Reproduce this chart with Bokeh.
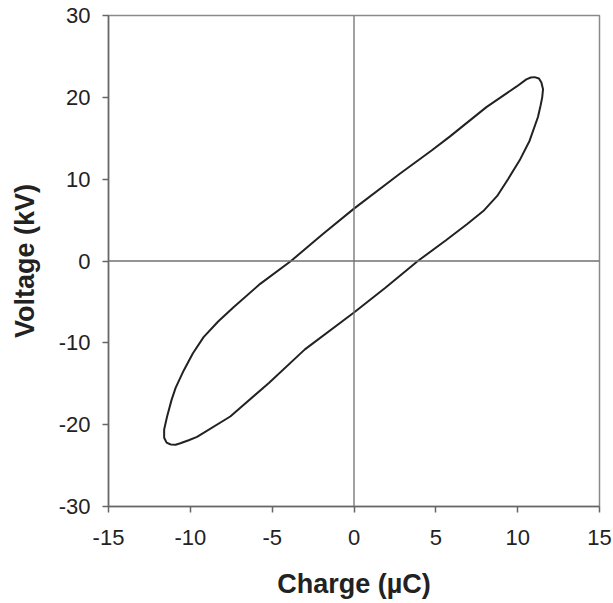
from bokeh.plotting import figure
from bokeh.models import Span, FixedTicker, CustomJSTickFormatter
from bokeh.embed import file_html
from bokeh.resources import INLINE

# Loop (charge in µC, voltage in kV)
charge = [-11.2, -11.45, -11.6, -11.6, -11.42, -11.15, -10.9, -10.41, -9.85, -9.19,
          -8.3, -7.36, -5.73, -3.85, -1.9, 0.0, 2.8, 4.74, 5.85, 8.09,
          9.92, 10.53, 10.8, 11.04, 11.3, 11.45, 11.55, 11.5, 11.4, 11.24,
          10.73, 10.12, 9.41, 8.75, 7.9, 6.9, 5.6, 3.9, 1.9, 0.0,
          -3.0, -5.2, -7.56, -9.59, -10.1, -10.61, -10.9, -11.2]
voltage = [-22.42, -22.2, -21.6, -20.6, -19.0, -17.0, -15.5, -13.4, -11.3, -9.3,
           -7.4, -5.65, -2.79, 0.0, 3.3, 6.4, 10.66, 13.5, 15.2, 18.8,
           21.3, 22.2, 22.42, 22.47, 22.3, 21.8, 21.0, 20.0, 19.0, 17.6,
           14.7, 12.3, 10.0, 7.95, 6.1, 4.5, 2.5, 0.0, -3.3, -6.3,
           -10.8, -14.9, -19.0, -21.5, -21.9, -22.27, -22.45, -22.42]

x_ticks = [-15, -10, -5, 0, 5, 10, 15]
y_ticks = [-30, -20, -10, 0, 10, 20, 30]
x_title = "Charge (µC)"
y_title = "Voltage (kV)"

FONT = "Liberation Sans"

p = figure(width=613, height=603, x_range=(-15, 15), y_range=(-30, 30),
           output_backend="svg", toolbar_location=None,
           min_border_left=108, min_border_right=14, min_border_top=15, min_border_bottom=97)

p.xgrid.visible = False
p.ygrid.visible = False
p.background_fill_color = "white"
p.border_fill_color = "white"
p.outline_line_color = "#8a8a8a"
p.outline_line_width = 1.5

fmt = CustomJSTickFormatter(code="return tick.toString();")
for ax in (p.xaxis[0], p.yaxis[0]):
    ax.axis_line_color = "#666666"
    ax.axis_line_width = 1.5
    ax.major_tick_line_color = "#666666"
    ax.major_tick_line_width = 1.5
    ax.major_tick_out = 6
    ax.major_tick_in = 0
    ax.minor_tick_line_color = None
    ax.major_label_text_font = FONT
    ax.major_label_text_font_size = "22px"
    ax.major_label_text_color = "#222222"
    ax.axis_label_text_font = FONT
    ax.axis_label_text_font_size = "27px"
    ax.axis_label_text_font_style = "bold"
    ax.axis_label_text_color = "#222222"
    ax.formatter = fmt

p.xaxis[0].major_label_standoff = 17
p.xaxis[0].axis_label_standoff = 21
p.yaxis[0].major_label_standoff = 12
p.yaxis[0].axis_label_standoff = 16
p.xaxis[0].ticker = FixedTicker(ticks=x_ticks)
p.yaxis[0].ticker = FixedTicker(ticks=y_ticks)
p.xaxis[0].axis_label = x_title
p.yaxis[0].axis_label = y_title

p.add_layout(Span(location=0, dimension="width", line_color="#707070", line_width=1.3))
p.add_layout(Span(location=0, dimension="height", line_color="#707070", line_width=1.3))

p.line(charge, voltage, line_color="#222222", line_width=2)

open("out.html", "w").write(file_html(p, INLINE))
